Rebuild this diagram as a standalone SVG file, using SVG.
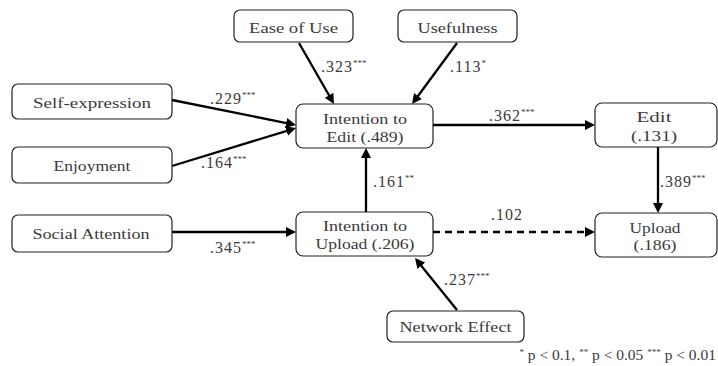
<svg xmlns="http://www.w3.org/2000/svg" width="718" height="366" viewBox="0 0 718 366">
<style>
.box{fill:#fff;stroke:#222;stroke-width:1.2}
.t{font-family:"Liberation Serif",serif;font-size:15px;fill:#3a3a3a;text-anchor:middle}
.l{font-family:"Liberation Serif",serif;font-size:16px;fill:#3a3a3a;letter-spacing:1px}
.s{font-size:9px;letter-spacing:0}
.c{stroke:#000;stroke-width:2.3;fill:none}
.d{stroke-dasharray:7 5}
</style>
<defs>
<marker id="ah" markerUnits="userSpaceOnUse" markerWidth="11" markerHeight="10" refX="4" refY="5" orient="auto">
<path d="M0,0 L10,5 L0,10 z" fill="#000"/>
</marker>
</defs>
<g id="connectors">
<line class="c" x1="299" y1="43" x2="331" y2="98.8" marker-end="url(#ah)"/>
<line class="c" x1="457" y1="43" x2="415.6" y2="99.2" marker-end="url(#ah)"/>
<line class="c" x1="172" y1="100" x2="290.1" y2="123.8" marker-end="url(#ah)"/>
<line class="c" x1="172" y1="166" x2="290.3" y2="129.8" marker-end="url(#ah)"/>
<line class="c" x1="433" y1="125" x2="589" y2="125" marker-end="url(#ah)"/>
<line class="c" x1="658" y1="147" x2="658" y2="207" marker-end="url(#ah)"/>
<line class="c" x1="366" y1="212" x2="366" y2="154" marker-end="url(#ah)"/>
<line class="c" x1="172" y1="232" x2="290" y2="232" marker-end="url(#ah)"/>
<line class="c d" x1="433" y1="232" x2="589" y2="232" marker-end="url(#ah)"/>
<line class="c" x1="457" y1="310" x2="418.8" y2="262.7" marker-end="url(#ah)"/>
<text class="l" x="321" y="72">.323<tspan class="s" dy="-6">***</tspan></text>
<text class="l" x="450" y="72">.113<tspan class="s" dy="-6">*</tspan></text>
<text class="l" x="210" y="104">.229<tspan class="s" dy="-6">***</tspan></text>
<text class="l" x="201" y="168">.164<tspan class="s" dy="-6">***</tspan></text>
<text class="l" x="489" y="121">.362<tspan class="s" dy="-6">***</tspan></text>
<text class="l" x="660" y="187">.389<tspan class="s" dy="-6">***</tspan></text>
<text class="l" x="373" y="187">.161<tspan class="s" dy="-6">**</tspan></text>
<text class="l" x="210" y="253">.345<tspan class="s" dy="-6">***</tspan></text>
<text class="l" x="491" y="220">.102</text>
<text class="l" x="444" y="285">.237<tspan class="s" dy="-6">***</tspan></text>
</g>
<g id="ease"><rect class="box" x="234" y="10" width="119" height="32" rx="6"/><text class="t" x="293.5" y="33" textLength="89" lengthAdjust="spacingAndGlyphs">Ease of Use</text></g>
<g id="usefulness"><rect class="box" x="398" y="10" width="119" height="32" rx="6"/><text class="t" x="457.5" y="33" textLength="80" lengthAdjust="spacingAndGlyphs">Usefulness</text></g>
<g id="selfexpression"><rect class="box" x="12" y="84" width="160" height="35" rx="6"/><text class="t" x="92" y="108" textLength="118" lengthAdjust="spacingAndGlyphs">Self-expression</text></g>
<g id="enjoyment"><rect class="box" x="12" y="147" width="160" height="36" rx="6"/><text class="t" x="92" y="171" textLength="77" lengthAdjust="spacingAndGlyphs">Enjoyment</text></g>
<g id="socialattention"><rect class="box" x="12" y="215" width="160" height="37" rx="6"/><text class="t" x="91" y="239" textLength="117" lengthAdjust="spacingAndGlyphs">Social Attention</text></g>
<g id="intentionedit"><rect class="box" x="296" y="104" width="137" height="44" rx="7"/><text class="t" x="365" y="124" textLength="84" lengthAdjust="spacingAndGlyphs">Intention to</text><text class="t" x="365" y="142" textLength="77" lengthAdjust="spacingAndGlyphs">Edit (.489)</text></g>
<g id="intentionupload"><rect class="box" x="296" y="212" width="137" height="44" rx="7"/><text class="t" x="365" y="231" textLength="84" lengthAdjust="spacingAndGlyphs">Intention to</text><text class="t" x="365" y="249" textLength="99" lengthAdjust="spacingAndGlyphs">Upload (.206)</text></g>
<g id="edit"><rect class="box" x="595" y="103" width="122" height="44" rx="7"/><text class="t" x="654" y="122" textLength="35" lengthAdjust="spacingAndGlyphs">Edit</text><text class="t" x="654" y="141" textLength="46" lengthAdjust="spacingAndGlyphs">(.131)</text></g>
<g id="upload"><rect class="box" x="595" y="213" width="122" height="44" rx="7"/><text class="t" x="655" y="233" textLength="51" lengthAdjust="spacingAndGlyphs">Upload</text><text class="t" x="655" y="250" textLength="43" lengthAdjust="spacingAndGlyphs">(.186)</text></g>
<g id="network"><rect class="box" x="387" y="311" width="137" height="31" rx="6"/><text class="t" x="455.5" y="332" textLength="112" lengthAdjust="spacingAndGlyphs">Network Effect</text></g>
<text x="716" y="360" text-anchor="end" style="font-family:'Liberation Serif',serif;font-size:15.5px;fill:#3a3a3a"><tspan style="font-size:9px" dy="-5">*</tspan><tspan dy="5"> p &lt; 0.1, </tspan><tspan style="font-size:9px" dy="-5">**</tspan><tspan dy="5"> p &lt; 0.05 </tspan><tspan style="font-size:9px" dy="-5">***</tspan><tspan dy="5"> p &lt; 0.01</tspan></text>
</svg>
